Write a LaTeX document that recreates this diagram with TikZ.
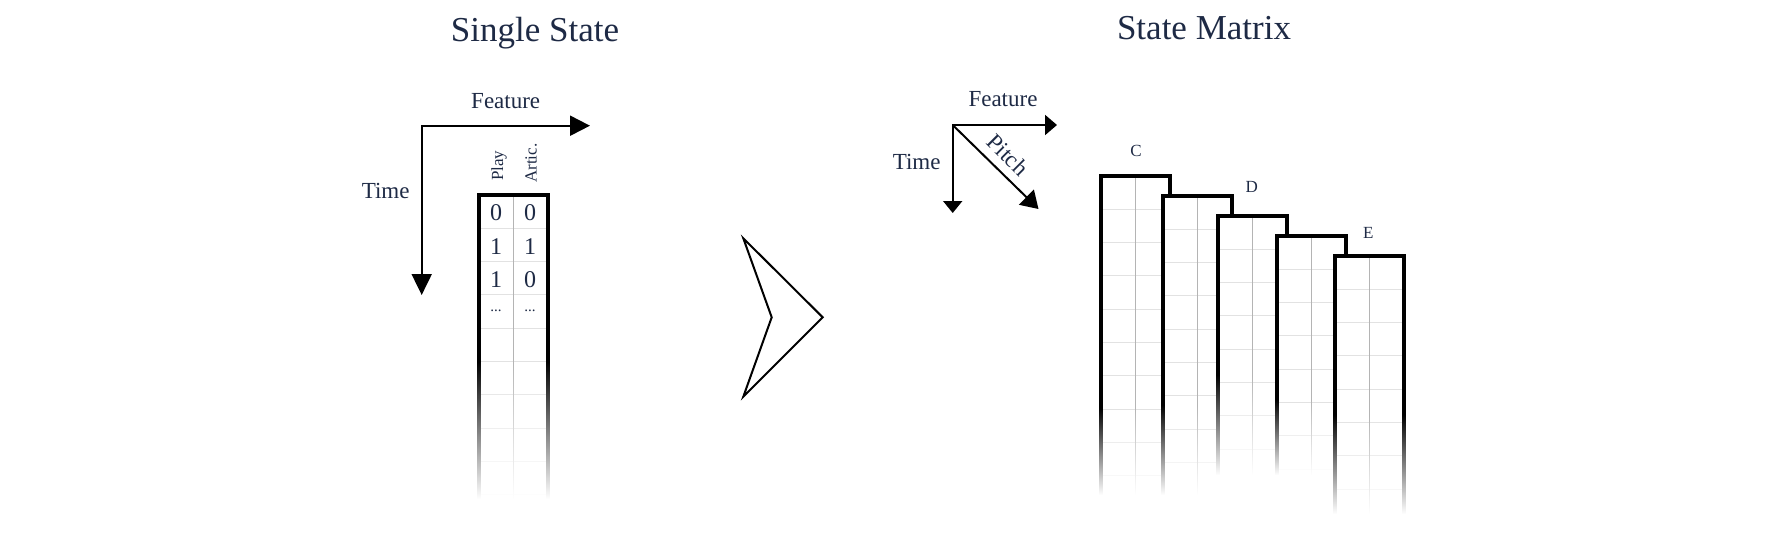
\documentclass[tikz,border=0pt]{standalone}
\usepackage{fontspec}
\setmainfont{Liberation Serif}
\usepackage{xcolor}
\usepackage{tikz}
\usetikzlibrary{arrows.meta,fadings}

\definecolor{ink}{HTML}{1E2A45}
\definecolor{gridgray}{HTML}{E2E2E2}
\definecolor{midgray}{HTML}{B4B4B4}

% one state column: left x, top y, fade start, bottom
\newcommand{\statecol}[4]{%
  \fill[white] (#1,#2) rectangle ({#1+69},#4);
  \begin{scope}
    \clip (#1,#2) rectangle ({#1+69},#4);
    \foreach \k in {1,...,10} \draw[gridline] (#1,{#2+33.3*\k}) -- ({#1+69},{#2+33.3*\k});
  \end{scope}
  \draw[midline] ({#1+34.5},#2) -- ({#1+34.5},#4);
  \draw[colborder] (#1,#4) -- (#1,#2) -- ({#1+69},#2) -- ({#1+69},#4);
  \fill[white, path fading=north] ({#1-2.2},#3) rectangle ({#1+71.2},#4);
  \fill[white] ({#1-2.2},{#4-0.5}) rectangle ({#1+71.2},{#4+40});
}

\begin{document}
\begin{tikzpicture}[x=1pt, y=-1pt,
    title/.style={text=ink, font=\fontsize{35}{40}\selectfont, inner sep=0pt, anchor=base},
    axlabel/.style={text=ink, font=\fontsize{23}{26}\selectfont, inner sep=0pt, anchor=base},
    small/.style={text=ink, font=\fontsize{17}{20}\selectfont, inner sep=0pt, anchor=base},
    cell/.style={text=ink, font=\fontsize{24}{26}\selectfont, inner sep=0pt},
    gridline/.style={gridgray, line width=1pt},
    midline/.style={midgray, line width=1.5pt},
    colborder/.style={black, line width=4pt, line join=miter},
    axis/.style={black, line width=2pt}]
  \useasboundingbox (0,0) rectangle (1787,556);

  % titles
  \node[title] (titleSingle) at (535,41.5) {Single State};
  \node[title] (titleMatrix) at (1204,40) {State Matrix};

  % Single state: axes
  \coordinate (originL) at (421.7,125.7);
  \coordinate (featEndL) at (590,125.7);
  \coordinate (timeEndL) at (421.7,295);
  \draw[axis, {Triangle[length=21pt,width=20pt]}-{Triangle[length=20pt,width=20pt]}] (timeEndL) -- (originL) -- (featEndL);
  \node[axlabel] (featL) at (505.7,108.3) {Feature};
  \node[axlabel] (timeL) at (385.7,198.3) {Time};

  % Single state: column with values
  \statecol{479}{195}{362}{499}
  \node[small, rotate=90, anchor=base west] (hdrPlay) at (503,181) {Play};
  \node[small, rotate=90, anchor=base west] (hdrArtic) at (536.7,183) {Artic.};
  \node[cell] (v11) at (496,213) {0};
  \node[cell] (v12) at (530,213) {0};
  \node[cell] (v21) at (496,246.5) {1};
  \node[cell] (v22) at (530,246.5) {1};
  \node[cell] (v31) at (496,280) {1};
  \node[cell] (v32) at (530,280) {0};
  \node[cell, font=\fontsize{15}{16}\selectfont] (v41) at (496,311) {...};
  \node[cell, font=\fontsize{15}{16}\selectfont] (v42) at (530,311) {...};

  % chevron
  \draw[black, line width=2pt, line join=miter] (743.3,238.3) -- (822.7,317.3) -- (743.3,396.7) -- (771.7,317.3) -- cycle;

  % State matrix: axes
  \coordinate (originR) at (952.7,125);
  \coordinate (featEndR) at (1057,125);
  \coordinate (timeEndR) at (952.7,213);
  \coordinate (pitchEndR) at (1038.5,209);
  \draw[axis, {Triangle[length=12pt,width=19pt]}-{Triangle[length=12pt,width=20pt]}] (timeEndR) -- (originR) -- (featEndR);
  \draw[axis, -{Triangle[length=17pt,width=21pt]}] (originR) -- (pitchEndR);
  \node[axlabel] (featR) at (1003,106.7) {Feature};
  \node[axlabel] (timeR) at (916.7,170) {Time};
  \node[axlabel, anchor=center, rotate=-45] (pitchR) at (1008,155) {Pitch};

  % State matrix: stacked columns
  \statecol{1101}{176}{408}{495}
  \statecol{1163}{196}{405}{495}
  \statecol{1218}{216}{375}{475}
  \statecol{1277}{236}{400}{475}
  \statecol{1335}{256}{415}{514}
  \node[small] (noteC) at (1136,156.7) {C};
  \node[small] (noteD) at (1251.7,192.3) {D};
  \node[small] (noteE) at (1368.3,238.3) {E};
\end{tikzpicture}
\end{document}
